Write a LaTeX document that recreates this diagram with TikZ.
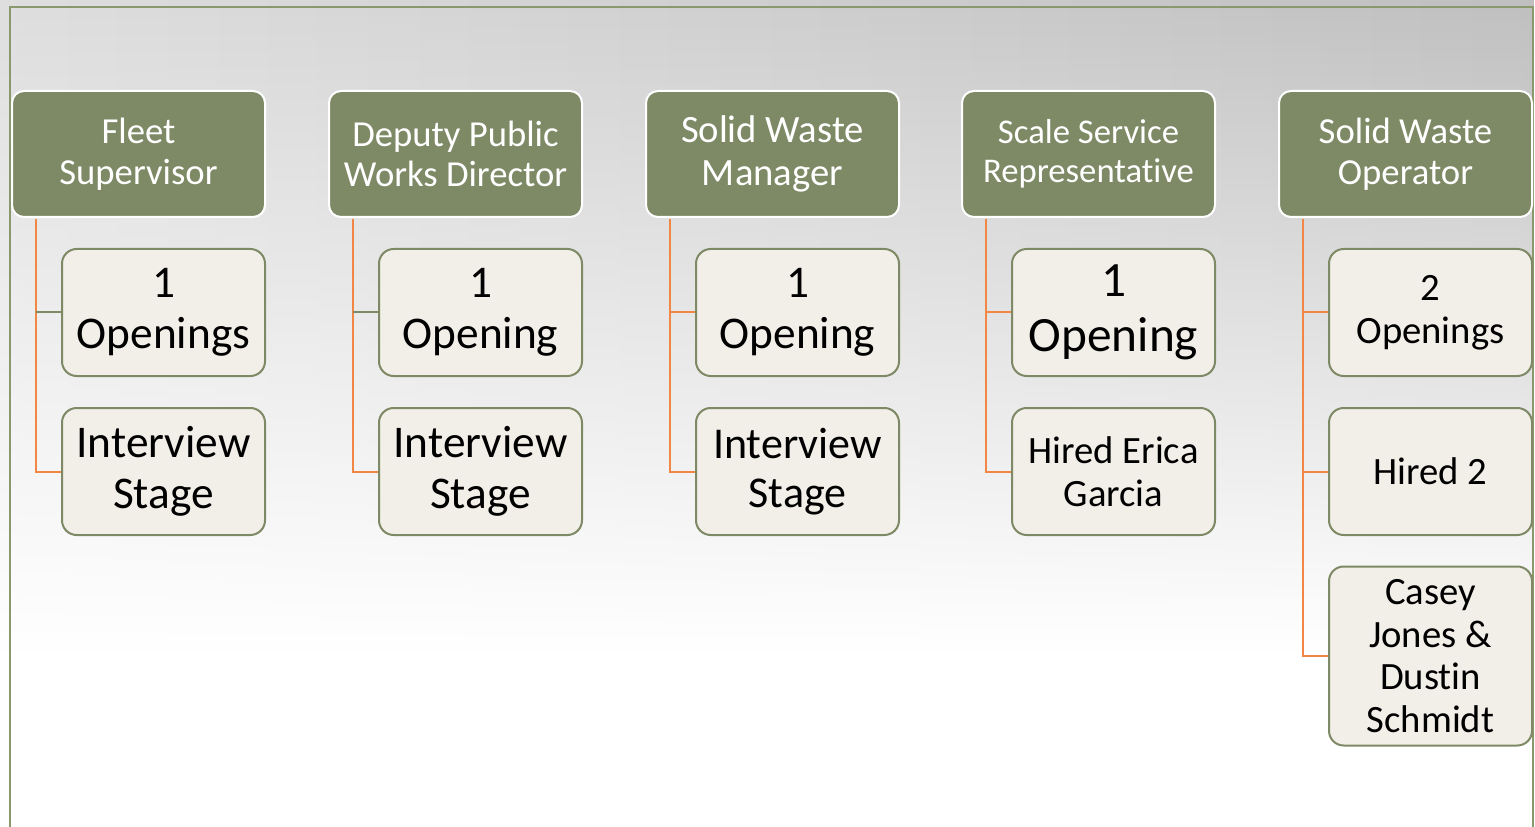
\documentclass[tikz,border=0pt]{standalone}
\usepackage{fontspec}
\setmainfont{Carlito}[Ligatures={NoCommon,NoRare,NoContextual}]
\usetikzlibrary{fadings}
\definecolor{hdr}{RGB}{126,138,102}
\definecolor{cfill}{RGB}{242,238,232}
\definecolor{org}{RGB}{240,135,68}
\definecolor{framec}{RGB}{138,152,110}
\tikzfading[name=fadedown, top color=transparent!0, bottom color=transparent!100]
\begin{document}
\begin{tikzpicture}[x=0.75pt,y=-0.75pt,
 hbox/.style={draw=white, line width=1.5pt, fill=hdr, rounded corners=9pt,
   minimum width=189.75pt, minimum height=94.5pt, text=white, align=center, inner sep=0pt},
 cbox/.style={draw=hdr, line width=1.5pt, fill=cfill, rounded corners=11pt,
   minimum width=152.25pt, minimum height=95.25pt, text=black, align=center, inner sep=0pt},
 orgline/.style={draw=org, line width=1.5pt},
 grnline/.style={draw=hdr, line width=1.5pt},
 hf/.style={font=\fontsize{27.5pt}{30.5pt}\selectfont},
 cf/.style={font=\fontsize{34pt}{38pt}\selectfont},
 sf/.style={font=\fontsize{29pt}{32pt}\selectfont}]
\useasboundingbox (0,0) rectangle (1535,827);
% background
\fill[white] (0,0) rectangle (1535,827);
\shade[left color=black!13, right color=black!25, path fading=fadedown] (0,0) rectangle (1535,650);
% frame
\draw[framec, line width=1.2pt] (10,827) -- (10,7) -- (1533,7) -- (1533,827);
% headers
\node[hbox, hf] (h1) at (138.5,154) {Fleet\\Supervisor};
\node[hbox, hf] (h2) at (455.5,154) {Deputy Public\\Works Director};
\node[hbox, font=\fontsize{29pt}{32pt}\selectfont] (h3) at (772.5,154) {Solid Waste\\Manager};
\node[hbox, font=\fontsize{26pt}{29pt}\selectfont] (h4) at (1088.5,154) {Scale Service\\Representative};
\node[hbox, hf] (h5) at (1405.5,154) {Solid Waste\\Operator};
% children
\node[cbox, cf] (c11) at (163.5,312.5) {1\\Openings};
\node[cbox, cf] (c12) at (163.5,471.5) {Interview\\Stage};
\node[cbox, cf] (c21) at (480.5,312.5) {1\\Opening};
\node[cbox, cf] (c22) at (480.5,471.5) {Interview\\Stage};
\node[cbox, cf] (c31) at (797.5,312.5) {1\\Opening};
\node[cbox, font=\fontsize{33pt}{37pt}\selectfont] (c32) at (797.5,471.5) {Interview\\Stage};
\node[cbox, font=\fontsize{37pt}{41pt}\selectfont] (c41) at (1113.5,312.5) {1\\Opening};
\node[cbox, sf] (c42) at (1113.5,471.5) {Hired Erica\\Garcia};
\node[cbox, sf] (c51) at (1430.5,312.5) {2\\Openings};
\node[cbox, sf] (c52) at (1430.5,471.5) {Hired 2};
\node[cbox, sf, minimum height=134.25pt] (c53) at (1430.5,656) {Casey\\Jones \&\\Dustin\\Schmidt};
% trunks
\foreach \i in {1,...,5} {\coordinate (t\i) at ([xshift=18.75pt, yshift=-0.75pt]h\i.south west);}
\draw[orgline] (t1) |- (c12.west);
\draw[grnline] (c11.west) -- (c11.west -| t1);
\draw[orgline] (t2) |- (c22.west);
\draw[grnline] (c21.west) -- (c21.west -| t2);
\draw[orgline] (t3) |- (c32.west);
\draw[orgline] (c31.west) -- (c31.west -| t3);
\draw[orgline] (t4) |- (c42.west);
\draw[orgline] (c41.west) -- (c41.west -| t4);
\draw[orgline] (t5) |- (c53.west);
\draw[orgline] (c51.west) -- (c51.west -| t5);
\draw[orgline] (c52.west) -- (c52.west -| t5);
\end{tikzpicture}
\end{document}
